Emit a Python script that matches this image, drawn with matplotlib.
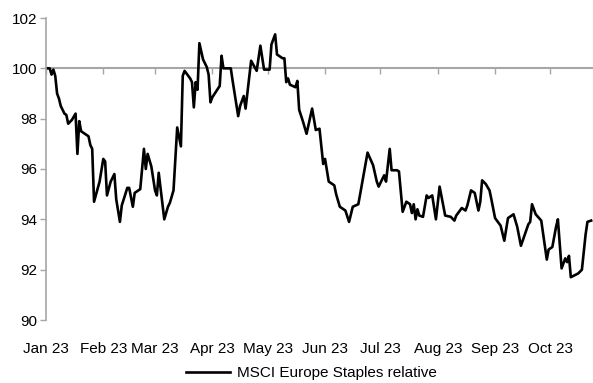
import matplotlib
matplotlib.use("Agg")
import matplotlib.pyplot as plt
import matplotlib.dates as mdates
import numpy as np
import pandas as pd

plt.rcParams['font.family'] = ['Liberation Sans', 'DejaVu Sans']

dates = [
    "2023-01-01", "2023-01-03", "2023-01-04", "2023-01-05", "2023-01-06", "2023-01-07",
    "2023-01-08", "2023-01-09", "2023-01-11", "2023-01-12", "2023-01-13", "2023-01-15",
    "2023-01-17", "2023-01-18", "2023-01-19", "2023-01-20", "2023-01-21", "2023-01-24",
    "2023-01-25", "2023-01-26", "2023-01-27", "2023-01-30", "2023-02-01", "2023-02-02",
    "2023-02-03", "2023-02-05", "2023-02-07", "2023-02-08", "2023-02-10", "2023-02-11",
    "2023-02-14", "2023-02-15", "2023-02-17", "2023-02-18", "2023-02-21", "2023-02-23",
    "2023-02-24", "2023-02-25", "2023-02-27", "2023-03-01", "2023-03-02", "2023-03-03",
    "2023-03-06", "2023-03-08", "2023-03-09", "2023-03-11", "2023-03-13", "2023-03-15",
    "2023-03-16", "2023-03-17", "2023-03-20", "2023-03-21", "2023-03-22", "2023-03-23",
    "2023-03-24", "2023-03-25", "2023-03-27", "2023-03-29", "2023-03-30", "2023-03-31",
    "2023-04-01", "2023-04-05", "2023-04-06", "2023-04-07", "2023-04-11", "2023-04-12",
    "2023-04-15", "2023-04-16", "2023-04-18", "2023-04-19", "2023-04-22", "2023-04-25",
    "2023-04-27", "2023-04-29", "2023-05-02", "2023-05-03", "2023-05-05", "2023-05-06",
    "2023-05-09", "2023-05-10", "2023-05-11", "2023-05-12", "2023-05-13", "2023-05-16",
    "2023-05-17", "2023-05-18", "2023-05-20", "2023-05-22", "2023-05-25", "2023-05-27",
    "2023-05-29", "2023-05-31", "2023-06-01", "2023-06-03", "2023-06-06", "2023-06-07",
    "2023-06-09", "2023-06-12", "2023-06-14", "2023-06-16", "2023-06-19", "2023-06-20",
    "2023-06-24", "2023-06-27", "2023-06-29", "2023-06-30", "2023-07-03", "2023-07-04",
    "2023-07-06", "2023-07-07", "2023-07-10", "2023-07-11", "2023-07-13", "2023-07-15",
    "2023-07-17", "2023-07-18", "2023-07-19", "2023-07-20", "2023-07-21", "2023-07-22",
    "2023-07-24", "2023-07-26", "2023-07-27", "2023-07-29", "2023-07-31", "2023-08-02",
    "2023-08-05", "2023-08-08", "2023-08-10", "2023-08-11", "2023-08-14", "2023-08-16",
    "2023-08-17", "2023-08-19", "2023-08-21", "2023-08-23", "2023-08-24", "2023-08-25",
    "2023-08-27", "2023-08-29", "2023-08-30", "2023-09-01", "2023-09-04", "2023-09-06",
    "2023-09-08", "2023-09-11", "2023-09-13", "2023-09-15", "2023-09-19", "2023-09-20",
    "2023-09-21", "2023-09-23", "2023-09-26", "2023-09-29", "2023-09-30", "2023-10-02",
    "2023-10-04", "2023-10-05", "2023-10-07", "2023-10-09", "2023-10-10", "2023-10-11",
    "2023-10-12", "2023-10-16", "2023-10-18", "2023-10-20", "2023-10-21", "2023-10-23",
]

values = [
    100.0, 100.0, 99.75, 99.95, 99.7, 99.0,
    98.8, 98.5, 98.2, 98.15, 97.8, 97.95,
    98.2, 96.6, 97.9, 97.5, 97.45, 97.3,
    96.95, 96.8, 94.7, 95.5, 96.4, 96.3,
    94.95, 95.5, 95.8, 94.8, 93.9, 94.55,
    95.25, 95.25, 94.5, 95.05, 95.2, 96.8,
    96.0, 96.6, 96.1, 95.15, 94.95, 95.85,
    94.0, 94.5, 94.65, 95.15, 97.65, 96.9,
    99.7, 99.9, 99.6, 99.45, 98.45, 99.45,
    99.15, 101.0, 100.35, 100.05, 99.75, 98.65,
    98.85, 99.3, 100.5, 100.0, 100.0, 99.5,
    98.1, 98.5, 98.9, 98.4, 100.3, 99.9,
    100.9, 99.95, 99.95, 100.95, 101.35, 100.55,
    100.4, 100.4, 99.45, 99.6, 99.35, 99.25,
    99.5, 98.35, 97.9, 97.4, 98.4, 97.55,
    97.6, 96.2, 96.4, 95.5, 95.35, 95.0,
    94.5, 94.35, 93.9, 94.5, 94.6, 95.0,
    96.65, 96.15, 95.5, 95.3, 95.75, 95.5,
    96.8, 95.95, 95.95, 95.9, 94.3, 94.7,
    94.6, 94.25, 94.6, 94.0, 94.4, 94.15,
    94.1, 94.95, 94.85, 94.95, 94.0, 95.3,
    94.15, 94.1, 93.95, 94.15, 94.45, 94.35,
    94.55, 95.15, 95.05, 94.35, 94.7, 95.55,
    95.4, 95.15, 94.8, 94.05, 93.75, 93.15,
    94.05, 94.2, 93.7, 92.95, 93.8, 93.9,
    94.6, 94.2, 93.95, 92.4, 92.8, 92.9,
    93.7, 94.0, 92.05, 92.45, 92.3, 92.55,
    91.7, 91.85, 92.0, 93.4, 93.9, 93.95,
]

month_ticks = ["2023-01-01", "2023-02-01", "2023-03-01", "2023-04-01", "2023-05-01",
               "2023-06-01", "2023-07-01", "2023-08-01", "2023-09-01", "2023-10-01"]
month_labels = ["Jan 23", "Feb 23", "Mar 23", "Apr 23", "May 23",
                "Jun 23", "Jul 23", "Aug 23", "Sep 23", "Oct 23"]
y_ticks = [90, 92, 94, 96, 98, 100, 102]
series_name = "MSCI Europe Staples relative"

x = pd.to_datetime(dates)
xt = mdates.date2num(pd.to_datetime(month_ticks).to_pydatetime())

fig = plt.figure(figsize=(5.93, 3.83), dpi=100)
ax = fig.add_axes([46 / 593, 1 - 320 / 383, 547 / 593, 302 / 383])

grey = "#a6a6a6"
ax.plot(x, values, color="black", lw=1.9, label=series_name, solid_joinstyle="round")

ax.set_ylim(90, 102)
ax.set_xlim(pd.Timestamp("2023-01-01"), pd.Timestamp("2023-10-24"))
ax.set_yticks(y_ticks)
ax.set_yticklabels([str(v) for v in y_ticks], fontsize=11)

for s in ["top", "right"]:
    ax.spines[s].set_visible(False)
ax.spines["left"].set_color(grey)
ax.spines["left"].set_linewidth(1.2)
ax.spines["bottom"].set_position(("data", 100))
ax.spines["bottom"].set_color(grey)
ax.spines["bottom"].set_linewidth(1.5)
ax.spines["bottom"].set_zorder(1)

ax.tick_params(axis="y", length=4, width=1, color=grey, pad=2)
ax.set_xticks(xt)
ax.tick_params(axis="x", length=4, width=1, color=grey, labelbottom=False, direction="out")

sec = ax.secondary_xaxis("bottom")
sec.set_xticks(xt)
sec.set_xticklabels(month_labels, fontsize=11)
sec.tick_params(axis="x", length=0, pad=16)
sec.spines["bottom"].set_visible(False)

ax.legend(loc="center", bbox_to_anchor=(0.525, 0.026), bbox_transform=fig.transFigure,
          frameon=False, fontsize=11, handlelength=2.9, handletextpad=0.4)

fig.savefig("out.png", dpi=100)
